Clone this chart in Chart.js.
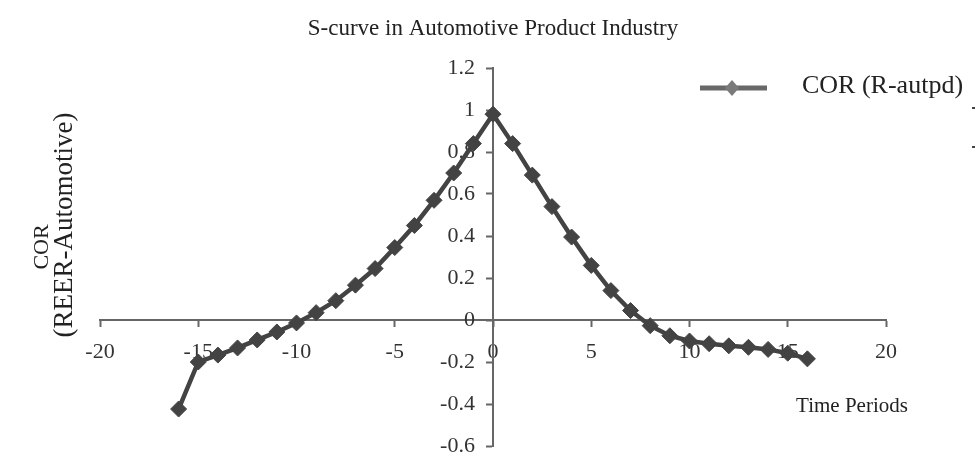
<!DOCTYPE html>
<html>
<head>
<meta charset="utf-8">
<script src="https://cdn.jsdelivr.net/npm/chart.js@4.4.0/dist/chart.umd.min.js"></script>
<style>
  html, body { margin: 0; padding: 0; background: #ffffff; }
  #wrap { width: 976px; height: 456px; position: relative; }
</style>
</head>
<body>
<div id="wrap"><canvas id="c" width="976" height="456"></canvas></div>
<script>
const chartTitle = 'S-curve in Automotive Product Industry';
const seriesName = 'COR (R-autpd)';
const xAxisTitle = 'Time Periods';
const yAxisTitle = ['COR', '(REER-Automotive)'];

const periods = [-16, -15, -14, -13, -12, -11, -10, -9, -8, -7, -6, -5, -4, -3, -2, -1,
                 0, 1, 2, 3, 4, 5, 6, 7, 8, 9, 10, 11, 12, 13, 14, 15, 16];
const corValues = [-0.424, -0.20, -0.167, -0.133, -0.095, -0.057, -0.014, 0.035, 0.092, 0.166, 0.245, 0.345, 0.45, 0.57, 0.70, 0.84,
                   0.98, 0.84, 0.69, 0.54, 0.395, 0.26, 0.14, 0.045, -0.027, -0.075, -0.10, -0.113, -0.123, -0.13, -0.14, -0.158, -0.185];

const xTicks = { min: -20, max: 20, step: 5 };
const yTicks = { min: -0.6, max: 1.2, step: 0.2 };

const FONT = '"Liberation Serif", "Times New Roman", serif';
const LINE_COLOR = '#434343';
const AXIS_COLOR = '#666666';

const points = periods.map((p, i) => ({ x: p, y: corValues[i] }));

const decorPlugin = {
  id: 'decor',
  afterDraw(chart) {
    const ctx = chart.ctx;
    ctx.save();
    ctx.fillStyle = '#222';
    ctx.textBaseline = 'middle';
    ctx.textAlign = 'center';
    ctx.font = '23px ' + FONT;
    ctx.fillText(chartTitle, 493, 29);
    ctx.font = '21px ' + FONT;
    ctx.fillText(xAxisTitle, 852, 406);
    // y-axis title (rotated)
    ctx.save();
    ctx.translate(42, 247);
    ctx.rotate(-Math.PI / 2);
    ctx.font = '22px ' + FONT;
    ctx.fillText(yAxisTitle[0], 0, 0);
    ctx.restore();
    ctx.save();
    ctx.translate(65, 225);
    ctx.rotate(-Math.PI / 2);
    ctx.font = '27px ' + FONT;
    ctx.fillText(yAxisTitle[1], 0, 0);
    ctx.restore();
    // legend
    ctx.strokeStyle = '#686868';
    ctx.lineWidth = 5;
    ctx.beginPath();
    ctx.moveTo(700, 88);
    ctx.lineTo(767, 88);
    ctx.stroke();
    ctx.fillStyle = '#7a7a7a';
    ctx.beginPath();
    ctx.moveTo(732, 80); ctx.lineTo(739, 88); ctx.lineTo(732, 96); ctx.lineTo(725, 88); ctx.closePath();
    ctx.fill();
    ctx.fillStyle = '#222';
    ctx.textAlign = 'left';
    ctx.font = '26px ' + FONT;
    ctx.fillText(seriesName, 802, 86);
    // small leftover marks at the right edge
    ctx.fillStyle = '#444';
    ctx.fillRect(972, 107, 3, 2);
    ctx.fillRect(972, 146, 3, 2);
    ctx.restore();
  }
};

const tickFont = { family: FONT, size: 22 };

new Chart(document.getElementById('c'), {
  type: 'line',
  data: {
    datasets: [{
      label: seriesName,
      data: points,
      xAxisID: 'x',
      yAxisID: 'y',
      borderColor: LINE_COLOR,
      backgroundColor: LINE_COLOR,
      borderWidth: 4.5,
      pointStyle: 'rectRot',
      pointRadius: 8,
      pointBorderWidth: 1,
      pointBorderColor: LINE_COLOR,
      pointBackgroundColor: LINE_COLOR,
      tension: 0,
      fill: false
    }]
  },
  options: {
    responsive: false,
    animation: false,
    devicePixelRatio: 1,
    layout: { padding: { left: 100, right: 90, top: 68, bottom: 10 } },
    plugins: { legend: { display: false }, title: { display: false }, tooltip: { enabled: false } },
    scales: {
      x: {
        type: 'linear',
        position: { y: 0 },
        min: xTicks.min, max: xTicks.max,
        afterFit(s) { s.height = 0; s.paddingLeft = 0; s.paddingRight = 0; },
        border: { display: true, color: AXIS_COLOR, width: 2 },
        grid: { display: true, drawOnChartArea: false, drawTicks: true, tickLength: 6, tickColor: AXIS_COLOR, tickWidth: 2 },
        ticks: { stepSize: xTicks.step, color: '#333', font: tickFont, padding: 13, maxRotation: 0 }
      },
      y: {
        type: 'linear',
        position: { x: 0 },
        min: yTicks.min, max: yTicks.max,
        afterFit(s) { s.width = 0; s.paddingTop = 0; s.paddingBottom = 0; },
        border: { display: true, color: AXIS_COLOR, width: 2 },
        grid: { display: true, drawOnChartArea: false, drawTicks: true, tickLength: 6, tickColor: AXIS_COLOR, tickWidth: 2 },
        ticks: { stepSize: yTicks.step, display: false }
      },
      yLabels: {
        type: 'linear',
        position: { x: -0.92 },
        min: yTicks.min, max: yTicks.max,
        afterFit(s) { s.width = 0; s.paddingTop = 0; s.paddingBottom = 0; },
        border: { display: false },
        grid: { display: false },
        ticks: {
          stepSize: yTicks.step, color: '#333', font: tickFont, padding: 0,
          callback: v => String(Number(v.toFixed(1)))
        }
      }
    }
  },
  plugins: [decorPlugin]
});
</script>
</body>
</html>
